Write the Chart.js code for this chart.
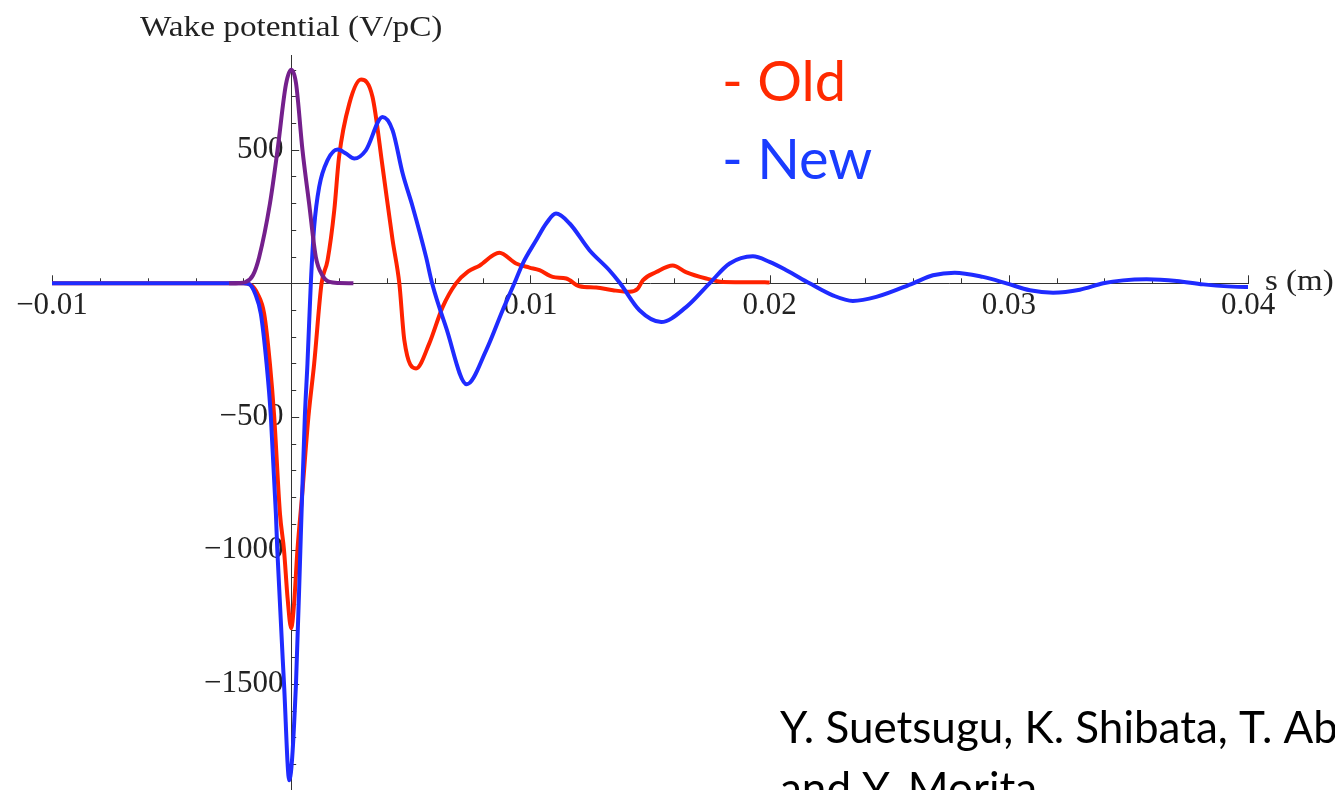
<!DOCTYPE html>
<html lang="en">
<head>
<meta charset="UTF-8">
<title>Wake potential</title>
<script src="https://cdn.jsdelivr.net/npm/chart.js"></script>
<style>
    html, body { margin: 0; padding: 0; background: #fff; overflow: hidden; }
    .wrap { position: relative; width: 1335px; height: 840px; }
</style>
</head>
<body>
<div class="wrap"><canvas id="wakeChart"></canvas></div>

<script>
    // old chamber wake (s in m, W in V/pC)
    const oldS = [-0.01, -0.002, -0.0017, -0.0014, -0.00113, -0.00089, -0.00071, -0.00047, -0.0003, -0.00015, 0,
        0.00012, 0.00026, 0.00045, 0.00072, 0.00096, 0.00127, 0.00152, 0.0018, 0.002, 0.00243, 0.00292, 0.0034,
        0.00382, 0.00424, 0.00452, 0.00473, 0.00522, 0.00577, 0.00633, 0.00689, 0.0074, 0.00787, 0.0087, 0.0094,
        0.00996, 0.01038, 0.01093, 0.0115, 0.01205, 0.01275, 0.01345, 0.01414, 0.01449, 0.0147, 0.01526, 0.01595,
        0.0165, 0.01735, 0.01805, 0.0198, 0.02];
    const oldW = [0, 0, -5, -40, -114, -301, -500, -863, -1000, -1180, -1292,
        -1200, -1000, -800, -500, -301, 0, 86, 273, 473, 673, 763, 698,
        436, 161, 0, -213, -319, -226, -89, 0, 45, 66, 114, 74,
        59, 49, 24, 18, -11, -16, -26, -32, -20, 11, 42, 67,
        42, 18, 5, 4, 3];

    // new chamber wake
    const newS = [-0.01, -0.002, -0.00176, -0.0015, -0.00127, -0.00103, -0.00085, -0.00064, -0.00058, -0.0003, -0.00008,
        0.0002, 0.0004, 0.00057, 0.00068, 0.00082, 0.00096, 0.00117, 0.00152, 0.00194, 0.00229, 0.00264, 0.00312,
        0.00382, 0.00424, 0.00466, 0.00508, 0.00564, 0.00589, 0.00647, 0.00734, 0.00815, 0.00884, 0.00933, 0.00968,
        0.01024, 0.01066, 0.01107, 0.01164, 0.01247, 0.0133, 0.01375, 0.01456, 0.01547, 0.01651, 0.01749, 0.01833,
        0.0193, 0.02, 0.0207, 0.02167, 0.02264, 0.02348, 0.02446, 0.026, 0.02683, 0.02774, 0.02892, 0.0299,
        0.03088, 0.03185, 0.03297, 0.03395, 0.03478, 0.03576, 0.03702, 0.03813, 0.0399, 0.04];
    const newW = [0, 0, -3, -40, -114, -301, -500, -863, -1000, -1500, -1861,
        -1500, -950, -500, -301, 0, 211, 361, 461, 501, 486, 467, 498,
        623, 573, 411, 286, 98, 0, -164, -378, -251, -101, 0, 74,
        161, 224, 261, 224, 124, 49, 0, -101, -145, -89, 0, 74,
        101, 80, 49, 0, -45, -66, -51, 0, 30, 40, 24, 0,
        -26, -35, -24, 0, 11, 15, 9, -4, -14, -14];

    // bunch profile
    const bunchS = [-0.0026, -0.0022, -0.0019, -0.0016, -0.00134, -0.00089, -0.00057, -0.00022, 0,
        0.0002, 0.00047, 0.00075, 0.00103, 0.0013, 0.0016, 0.002, 0.0026];
    const bunchW = [0, 1, 5, 30, 98, 298, 500, 745, 800,
        750, 500, 298, 98, 30, 5, 1, 0];

    // labelled ticks
    const xTicks = [-0.01, 0, 0.01, 0.02, 0.03, 0.04];
    const yTicks = [-1500, -1000, -500, 0, 500];

    const xMin = -0.01, xMax = 0.04, xMinor = 0.002;
    const yMin = -1935, yMax = 855, yMinor = 100;

    const toPoints = (s, w) => s.map((v, i) => ({ x: v, y: w[i] }));

    const serif = "'Liberation Serif', 'Times New Roman', serif";
    const sans = "Lato, 'Open Sans', sans-serif";
    const axisColor = '#333';

    function fmtNum(v, digits) {
        const t = Math.abs(v).toFixed(digits);
        return v < 0 ? '\u2212' + t : t;
    }

    // slightly widened serif text, like the plot's own captions
    function wideText(ctx, text, x, y, sx) {
        ctx.save();
        ctx.translate(x, y);
        ctx.scale(sx, 1);
        ctx.fillText(text, 0, 0);
        ctx.restore();
    }

    // Mathematica-style tick marks (inward) plus axis captions and notes
    const decorations = {
        id: 'decorations',
        beforeDatasetsDraw(chart) {
            const ctx = chart.ctx;
            const xs = chart.scales.x, ys = chart.scales.y;
            const x0 = xs.getPixelForValue(0), y0 = ys.getPixelForValue(0);
            ctx.save();
            ctx.strokeStyle = axisColor;
            ctx.lineWidth = 1;
            ctx.beginPath();
            const nx = Math.round((xMax - xMin) / xMinor);
            for (let i = 0; i <= nx; i++) {
                const v = xMin + i * xMinor;
                if (Math.abs(v) < 1e-9) continue;
                const px = Math.round(xs.getPixelForValue(v)) + 0.5;
                const len = i % 5 === 0 ? 8 : 5;
                ctx.moveTo(px, y0);
                ctx.lineTo(px, y0 - len);
            }
            for (let v = Math.ceil(yMin / yMinor) * yMinor; v <= yMax; v += yMinor) {
                if (v === 0) continue;
                const py = Math.round(ys.getPixelForValue(v)) + 0.5;
                const len = yTicks.includes(v) ? 8 : 5;
                ctx.moveTo(x0, py);
                ctx.lineTo(x0 + len, py);
            }
            ctx.stroke();
            ctx.restore();
        },
        afterDraw(chart) {
            const ctx = chart.ctx;
            const xs = chart.scales.x, ys = chart.scales.y;
            const x0 = xs.getPixelForValue(0), y0 = ys.getPixelForValue(0);
            ctx.save();
            ctx.fillStyle = '#222';
            ctx.font = '30px ' + serif;
            ctx.textBaseline = 'alphabetic';
            ctx.textAlign = 'center';
            wideText(ctx, 'Wake potential (V/pC)', x0, 36, 1.11);
            ctx.textAlign = 'left';
            wideText(ctx, 's (m)', xs.right + 17, y0 + 7, 1.1);

            ctx.font = '56px ' + sans;
            ctx.fillStyle = '#ff2a00';
            ctx.fillText('- Old', 722, 101);
            ctx.fillStyle = '#1a3cff';
            ctx.fillText('- New', 722, 179);

            ctx.fillStyle = '#000';
            ctx.font = '44px ' + sans;
            ctx.fillText('Y. Suetsugu, K. Shibata, T. Abe,', 780, 743);
            ctx.fillText('and Y. Morita', 780, 804);
            ctx.restore();
        }
    };

    const lineStyle = {
        borderWidth: 4,
        pointRadius: 0,
        fill: false,
        cubicInterpolationMode: 'monotone'
    };

    new Chart(document.getElementById('wakeChart'), {
        type: 'line',
        data: {
            datasets: [
                Object.assign({ label: 'Bunch', data: toPoints(bunchS, bunchW), borderColor: '#74208c' }, lineStyle),
                Object.assign({ label: 'New', data: toPoints(newS, newW), borderColor: '#1f2bff' }, lineStyle),
                Object.assign({ label: 'Old', data: toPoints(oldS, oldW), borderColor: '#ff2200' }, lineStyle)
            ]
        },
        options: {
            responsive: true,
            maintainAspectRatio: false,
            animation: false,
            layout: { padding: { left: 52, right: 87, top: 55, bottom: 40 } },
            plugins: { legend: { display: false }, tooltip: { enabled: false } },
            scales: {
                x: {
                    type: 'linear',
                    position: { y: 0 },
                    min: xMin,
                    max: xMax,
                    afterBuildTicks: s => { s.ticks = xTicks.map(v => ({ value: v })); },
                    grid: { drawOnChartArea: false, drawTicks: false },
                    border: { display: true, color: axisColor, width: 1 },
                    ticks: {
                        maxRotation: 0,
                        autoSkip: false,
                        padding: 4,
                        color: '#222',
                        font: { family: serif, size: 31 },
                        callback: v => Math.abs(v) < 1e-9 ? '' : fmtNum(v, 2)
                    }
                },
                y: {
                    type: 'linear',
                    position: { x: 0 },
                    min: yMin,
                    max: yMax,
                    afterBuildTicks: s => { s.ticks = yTicks.map(v => ({ value: v })); },
                    grid: { drawOnChartArea: false, drawTicks: false },
                    border: { display: true, color: axisColor, width: 1 },
                    ticks: {
                        autoSkip: false,
                        color: '#222',
                        font: { family: serif, size: 31 },
                        // trailing space keeps the label off the axis line
                        callback: v => v === 0 ? '' : fmtNum(v, 0) + ' '
                    }
                }
            }
        },
        plugins: [decorations]
    });
</script>
</body>
</html>
